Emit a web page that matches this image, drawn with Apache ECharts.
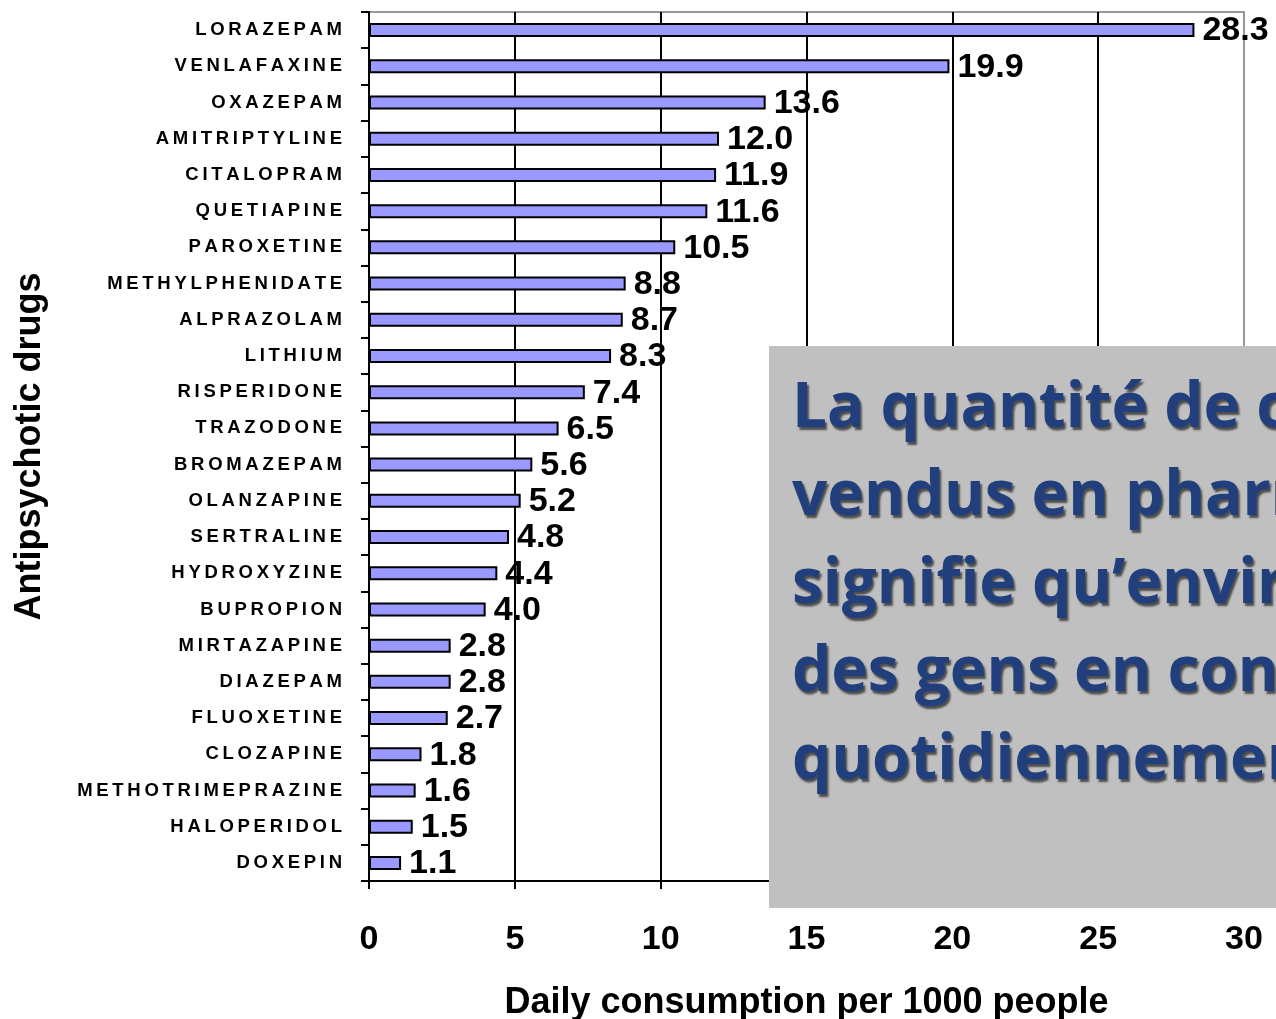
<!DOCTYPE html>
<html>
<head>
<meta charset="utf-8">
<script src="https://cdn.jsdelivr.net/npm/echarts@6/dist/echarts.min.js"></script>
<style>
  html, body { margin: 0; padding: 0; background: #ffffff; }
  #chart { width: 1276px; height: 1019px; }
</style>
</head>
<body>
<div id="chart"></div>
<script>
const drugs = ['LORAZEPAM','VENLAFAXINE','OXAZEPAM','AMITRIPTYLINE','CITALOPRAM','QUETIAPINE','PAROXETINE','METHYLPHENIDATE','ALPRAZOLAM','LITHIUM','RISPERIDONE','TRAZODONE','BROMAZEPAM','OLANZAPINE','SERTRALINE','HYDROXYZINE','BUPROPION','MIRTAZAPINE','DIAZEPAM','FLUOXETINE','CLOZAPINE','METHOTRIMEPRAZINE','HALOPERIDOL','DOXEPIN'];
const consumption = [28.3,19.9,13.6,12.0,11.9,11.6,10.5,8.8,8.7,8.3,7.4,6.5,5.6,5.2,4.8,4.4,4.0,2.8,2.8,2.7,1.8,1.6,1.5,1.1];
const xTicks = [0,5,10,15,20,25,30];
const overlayLines = ['La quantité de comprimés','vendus en pharmacie','signifie qu’environ','des gens en consomment','quotidiennement'];

const chart = echarts.init(document.getElementById('chart'), null, {renderer: 'canvas'});
const FONT = '"Liberation Sans", Arial, sans-serif';

chart.setOption({
  animation: false,
  backgroundColor: '#ffffff',
  grid: {
    left: 369, right: 32, top: 12, bottom: 138,
    outerBoundsMode: 'none',
    containLabel: false,
    show: true, borderColor: '#999999', borderWidth: 2, backgroundColor: 'transparent'
  },
  xAxis: {
    type: 'value',
    min: xTicks[0], max: xTicks[xTicks.length - 1], interval: 5,
    name: 'Daily consumption per 1000 people',
    nameLocation: 'middle', nameGap: 104,
    nameTextStyle: { fontFamily: FONT, fontWeight: 'bold', fontSize: 36, color: '#000' },
    axisLine: { show: true, lineStyle: { color: '#000', width: 2 } },
    axisTick: { show: true, length: 8, lineStyle: { color: '#000', width: 2 } },
    axisLabel: { fontFamily: FONT, fontWeight: 'bold', fontSize: 34, color: '#000', margin: 42 },
    splitLine: { show: true, lineStyle: { color: ['#000','#000','#000','#000','#000','#000','#999'], width: 2 } }
  },
  yAxis: {
    type: 'category',
    data: drugs,
    inverse: true,
    name: 'Antipsychotic drugs',
    nameLocation: 'middle', nameGap: 321,
    nameTextStyle: { fontFamily: FONT, fontWeight: 'bold', fontSize: 36, color: '#000' },
    axisLine: { show: true, lineStyle: { color: '#000', width: 2 } },
    axisTick: { show: true, length: 8, lineStyle: { color: '#000', width: 2 } },
    axisLabel: {
      fontFamily: FONT, fontWeight: 'bold', fontSize: 18.5, color: '#000', margin: 27,
      formatter: v => v.split('').join('\u2009')
    },
    splitLine: { show: false }
  },
  series: [{
    type: 'bar',
    data: consumption,
    barWidth: 14,
    itemStyle: { color: '#9999FF', borderColor: '#000', borderWidth: 2 },
    label: {
      show: true, position: 'right', distance: 8,
      fontFamily: FONT, fontWeight: 'bold', fontSize: 34, color: '#000',
      offset: [0, 1],
      formatter: p => p.value.toFixed(1)
    }
  }],
  graphic: [{
    type: 'rect',
    z: 100,
    shape: { x: 769, y: 346, width: 520, height: 562 },
    style: { fill: '#C0C0C0' }
  }, {
    type: 'text',
    z: 101,
    x: 792, y: 365,
    style: {
      text: overlayLines.join('\n'),
      font: 'bold 62px "Open Sans", sans-serif',
      lineHeight: 88,
      fill: '#213F7D',
      textShadowColor: 'rgba(0,0,0,0.6)',
      textShadowBlur: 2,
      textShadowOffsetX: 2,
      textShadowOffsetY: 3,
      verticalAlign: 'top'
    }
  }]
});
</script>
</body>
</html>
